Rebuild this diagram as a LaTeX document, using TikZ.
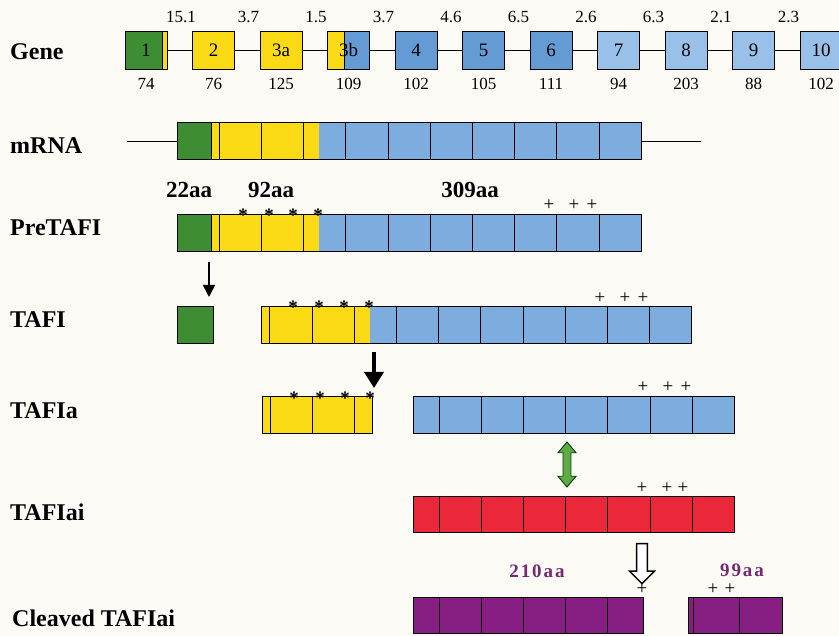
\documentclass[tikz,border=0pt]{standalone}
\usepackage{fontspec}
\setmainfont{Liberation Serif}
\usetikzlibrary{arrows.meta,shapes.arrows}

\definecolor{exgreen}{RGB}{62,140,52}
\definecolor{exyellow}{RGB}{250,218,20}
\definecolor{exblue}{RGB}{125,172,222}
\definecolor{exblueA}{RGB}{100,155,212}
\definecolor{exblueB}{RGB}{152,192,232}
\definecolor{exred}{RGB}{235,40,58}
\definecolor{expurple}{RGB}{135,30,130}
\definecolor{aapurple}{RGB}{120,40,115}
\definecolor{arrgreen}{RGB}{95,170,70}
\definecolor{paper}{RGB}{252,250,244}

\begin{document}
\begin{tikzpicture}[
    x=1pt, y=-1pt,
    exon/.style={draw=black, fill=#1, minimum width=42pt, minimum height=38pt, inner sep=0pt, line width=0.8pt, font=\fontsize{19}{19}\selectfont},
    seg/.style={draw=black, line width=0.8pt},
    rowlab/.style={anchor=west, inner sep=0pt, font=\bfseries\fontsize{24}{24}\selectfont},
    num/.style={inner sep=0pt, font=\fontsize{17}{17}\selectfont},
    aa/.style={inner sep=0pt, font=\bfseries\fontsize{23}{23}\selectfont},
    frag/.style={inner sep=0pt, text=aapurple, font=\bfseries\fontsize{19}{19}\selectfont\addfontfeature{LetterSpace=10}},
    gsite/.style={inner sep=0pt, font=\bfseries\fontsize{19}{19}\selectfont},
    psite/.style={inner sep=0pt, font=\fontsize{19}{19}\selectfont},
    nostrip/.style={},
    rstrip/.style={path picture={
        \fill[exyellow] ([xshift=-5pt]path picture bounding box.north east) rectangle (path picture bounding box.south east);
        \draw[line width=0.8pt] ([xshift=-5pt]path picture bounding box.north east) -- ([xshift=-5pt]path picture bounding box.south east);}},
    lstrip/.style={path picture={
        \fill[exyellow] (path picture bounding box.north west) rectangle ([xshift=17pt]path picture bounding box.south west);
        \draw[line width=0.6pt] ([xshift=17pt]path picture bounding box.north west) -- ([xshift=17pt]path picture bounding box.south west);}}
]

\useasboundingbox (0,0) rectangle (839,636);
\clip (0,0) rectangle (839,636);
\fill[paper] (0,0) rectangle (839,636);

% ── Row labels ───────────────────────────────────────────────────────────────
\node[rowlab] (lgene)  at (10,52)  {Gene};
\node[rowlab] (lmrna)  at (10,146) {mRNA};
\node[rowlab] (lpre)   at (10,228) {PreTAFI};
\node[rowlab] (ltafi)  at (10,320) {TAFI};
\node[rowlab] (ltafia) at (10,411) {TAFIa};
\node[rowlab] (lai)    at (10,512) {TAFIai};
\node[rowlab] (lcut)   at (12,618) {Cleaved TAFIai};

% ── Gene: exons, intron lines, sizes ─────────────────────────────────────────
\foreach \lab/\len/\col/\extra [count=\i] in {1/74/exgreen/rstrip, 2/76/exyellow/nostrip,
        3a/125/exyellow/nostrip, 3b/109/exblueA/lstrip, 4/102/exblueA/nostrip,
        5/105/exblueA/nostrip, 6/111/exblueA/nostrip, 7/94/exblueB/nostrip,
        8/203/exblueB/nostrip, 9/88/exblueB/nostrip, 10/102/exblueB/nostrip} {
    \node[exon=\col, \extra] (g\i) at ({146+67.5*(\i-1)}, 50) {\lab};
    \node[num] (n\i) at ({146+67.5*(\i-1)}, 84) {\len};
}
\foreach \i [evaluate=\i as \j using int(\i+1)] in {1,...,10} {
    \draw[line width=0.8pt] (g\i.east) -- (g\j.west);
}
\foreach \d [count=\i] in {15.1,3.7,1.5,3.7,4.6,6.5,2.6,6.3,2.1,2.3} {
    \node[num] (k\i) at ({181+67.5*(\i-1)}, 17) {\d};
}

% ── mRNA and PreTAFI ─────────────────────────────────────────────────────────
\foreach \yt in {122,214} {
    \fill[exgreen]  (177,\yt) rectangle (211,\yt+37);
    \fill[exyellow] (211,\yt) rectangle (319,\yt+37);
    \fill[exblue]   (319,\yt) rectangle (641,\yt+37);
    \draw[seg] (211,\yt) -- (211,\yt+37);
    \foreach \k in {1,...,10} \draw[seg] ({177+42.2*\k},\yt) -- ({177+42.2*\k},\yt+37);
    \draw[seg] (177,\yt) rectangle (641,\yt+37);
}
\draw[line width=0.8pt] (127,141) -- (177,141);
\draw[line width=0.8pt] (641,141) -- (701,141);

\node[aa] (aa22)  at (189,190) {22aa};
\node[aa] (aa92)  at (271,190) {92aa};
\node[aa] (aa309) at (470,190) {309aa};

\foreach \x in {243,269,293,318} \node[gsite] at (\x,215) {*};
\foreach \x in {549,574,592} \node[psite] at (\x,205) {+};

% ── Signal peptide removed ───────────────────────────────────────────────────
\coordinate (a1s) at (209,262);
\coordinate (a1e) at (209,297);
\draw[-{Triangle[length=12pt,width=12pt]}, line width=1.6pt] (a1s) -- (a1e);
\node[draw=black, fill=exgreen, line width=0.8pt, minimum width=36pt, minimum height=37pt, inner sep=0pt] (sig) at (195,324.5) {};

% ── TAFI ─────────────────────────────────────────────────────────────────────
\fill[exyellow] (261.5,306) rectangle (369.5,343);
\fill[exblue]   (369.5,306) rectangle (691.7,343);
\foreach \k in {1,...,10} \draw[seg] ({227.5+42.2*\k},306) -- ({227.5+42.2*\k},343);
\draw[seg] (261.5,306) rectangle (691.7,343);
\foreach \x in {293,319,344,369} \node[gsite] at (\x,307) {*};
\foreach \x in {600,625,643} \node[psite] at (\x,298) {+};

\coordinate (a2s) at (374,352);
\coordinate (a2e) at (374,388);
\draw[-{Triangle[length=16pt,width=19pt]}, line width=3.5pt] (a2s) -- (a2e);

% ── TAFIa ────────────────────────────────────────────────────────────────────
\fill[exyellow] (262,396) rectangle (372,433);
\foreach \x in {270,312,354} \draw[seg] (\x,396) -- (\x,433);
\draw[seg] (262,396) rectangle (372,433);
\fill[exblue] (413,396) rectangle (734.4,433);
\foreach \k in {0,...,6} \draw[seg] ({439+42.2*\k},396) -- ({439+42.2*\k},433);
\draw[seg] (413,396) rectangle (734.4,433);
\foreach \x in {294,320,345,370} \node[gsite] at (\x,398) {*};
\foreach \x in {643,668,686} \node[psite] at (\x,387) {+};

\node[double arrow, rotate=90, draw=black!75!green, fill=arrgreen, line width=0.9pt,
      minimum height=45pt, minimum width=18pt, inner xsep=0pt, inner ysep=3.5pt,
      double arrow head extend=5pt, double arrow tip angle=80] (dbl) at (567,464.5) {};

% ── TAFIai ───────────────────────────────────────────────────────────────────
\fill[exred] (413,496) rectangle (734.4,532);
\foreach \k in {0,...,6} \draw[seg] ({439+42.2*\k},496) -- ({439+42.2*\k},532);
\draw[seg] (413,496) rectangle (734.4,532);
\foreach \x in {642,667,683} \node[psite] at (\x,488) {+};

\node[single arrow, rotate=-90, draw=black, fill=white, line width=1.4pt,
      minimum height=40pt, minimum width=25pt, inner xsep=0pt, inner ysep=4.5pt,
      single arrow head extend=7pt] (cut) at (642,561) {};

% ── Cleaved TAFIai ───────────────────────────────────────────────────────────
\node[frag] (f210) at (537,571) {210aa};
\node[frag] (f99)  at (742,570) {99aa};

\fill[expurple] (413,597) rectangle (643,633);
\foreach \k in {0,...,4} \draw[seg] ({439+42.2*\k},597) -- ({439+42.2*\k},633);
\draw[seg] (413,597) rectangle (643,633);

\fill[expurple] (688,597) rectangle (782,633);
\foreach \x in {693,739} \draw[seg] (\x,597) -- (\x,633);
\draw[seg] (688,597) rectangle (782,633);

\node[psite] at (642,589) {+};
\foreach \x in {713,730} \node[psite] at (\x,589) {+};

\end{tikzpicture}
\end{document}
